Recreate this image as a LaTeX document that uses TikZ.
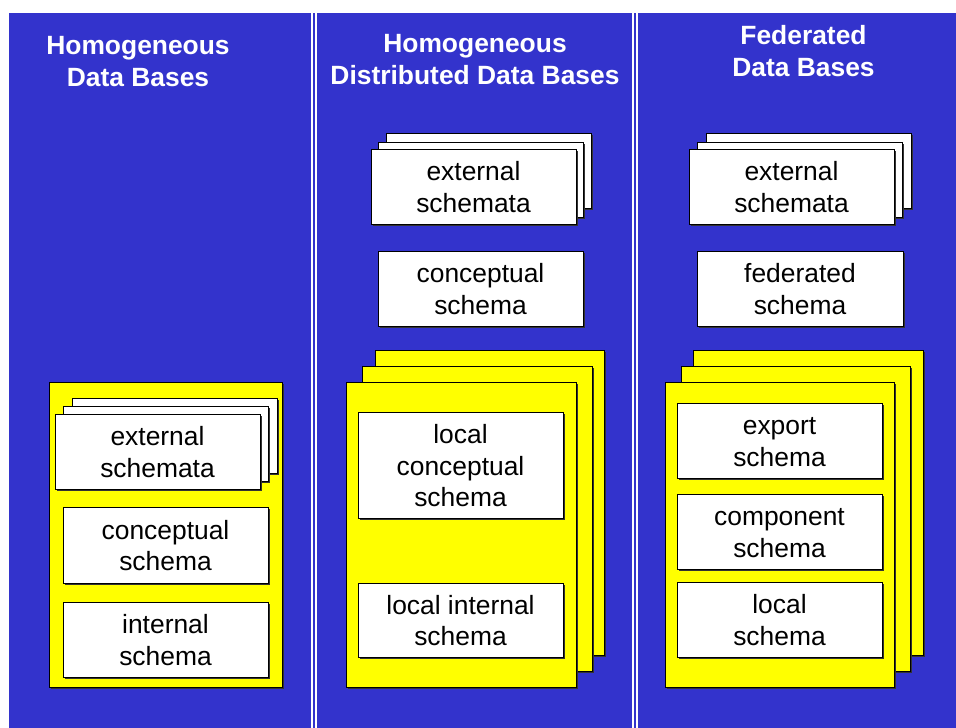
\documentclass[tikz,border=0pt]{standalone}
\usepackage{fontspec}
\setmainfont{Liberation Sans}
\usetikzlibrary{shadows}
\definecolor{panelblue}{RGB}{51,51,204}
\definecolor{siteyellow}{RGB}{255,255,0}
% strut giving every text line the same height and depth
\newcommand\linestrut{\rule[-5.85pt]{0pt}{31.7pt}}

\tikzset{
  boxshadow/.style={drop shadow={shadow xshift=1.6pt, shadow yshift=-1.6pt, fill=black!80, opacity=1}},
  schemabox/.style={draw=black, line width=0.7pt, fill=white, inner sep=0pt, outer sep=0pt,
    align=center, minimum width=205pt, minimum height=75pt, boxshadow,
    font=\fontsize{26.4pt}{31.7pt}\selectfont},
  sitebox/.style={draw=black, line width=0.7pt, fill=siteyellow, inner sep=0pt, outer sep=0pt,
    minimum width=230pt, minimum height=305pt, boxshadow},
  coltitle/.style={text=white, inner sep=0pt, align=center,
    font=\bfseries\fontsize{26.4pt}{31.7pt}\selectfont},
  divider/.style={white, line width=2pt}
}

\begin{document}
\begin{tikzpicture}[x=1pt, y=-1pt]
  \useasboundingbox (0,0) rectangle (956,728);
  \fill[white] (0,0) rectangle (956,728);
  \fill[panelblue] (9,13) rectangle (956,728);

  % column separators (double white rules)
  \draw[divider] (311.7,13) -- (311.7,728);
  \draw[divider] (315.7,13) -- (315.7,728);
  \draw[divider] (632.7,13) -- (632.7,728);
  \draw[divider] (636.6,13) -- (636.6,728);

  % column titles
  \node[coltitle] (title1) at (138,60.5) {Homogeneous\linestrut\\Data Bases\linestrut};
  \node[coltitle] (title2) at (475,58.5) {Homogeneous\linestrut\\Distributed Data Bases\linestrut};
  \node[coltitle] (title3) at (803.5,50.5) {Federated\linestrut\\Data Bases\linestrut};

  % ---- homogeneous data bases ----
  \node[sitebox, minimum width=233pt] (hsite) at (165.5,534.5) {};
  \node[schemabox] (hext3) at (174.5,435.5) {};
  \node[schemabox] (hext2) at (165.5,443.5) {};
  \node[schemabox] (hext1) at (157.5,451.5) {external\linestrut\\schemata\linestrut};
  \node[schemabox, minimum height=76pt] (hconc) at (165.5,545) {conceptual\linestrut\\schema\linestrut};
  \node[schemabox] (hint) at (165.5,639.5) {internal\linestrut\\schema\linestrut};

  % ---- homogeneous distributed data bases ----
  \node[schemabox] (dext3) at (489,170.5) {};
  \node[schemabox] (dext2) at (481,179.5) {};
  \node[schemabox] (dext1) at (473.5,186.5) {external\linestrut\\schemata\linestrut};
  \node[schemabox] (dconc) at (480.5,288.5) {conceptual\linestrut\\schema\linestrut};
  \node[sitebox, minimum width=229pt] (dsite3) at (489.5,502.5) {};
  \node[sitebox] (dsite2) at (477,518.5) {};
  \node[sitebox] (dsite1) at (461,534.5) {};
  \node[schemabox, minimum height=106pt] (dlconc) at (460.5,465) {local\linestrut\\conceptual\linestrut\\schema\linestrut};
  \node[schemabox, minimum height=74pt] (dlint) at (460.5,620) {local internal\linestrut\\schema\linestrut};

  % ---- federated data bases ----
  \node[schemabox] (fext3) at (808.5,170.5) {};
  \node[schemabox] (fext2) at (799.5,179.5) {};
  \node[schemabox] (fext1) at (791.5,186.5) {external\linestrut\\schemata\linestrut};
  \node[schemabox, minimum width=206pt] (ffed) at (800,288.5) {federated\linestrut\\schema\linestrut};
  \node[sitebox] (fsite3) at (808,502.5) {};
  \node[sitebox, minimum width=229pt] (fsite2) at (795.5,518.5) {};
  \node[sitebox, minimum width=229pt] (fsite1) at (779.5,534.5) {};
  \node[schemabox] (fexp) at (779.5,440.5) {export\linestrut\\schema\linestrut};
  \node[schemabox] (fcomp) at (779.5,531.5) {component\linestrut\\schema\linestrut};
  \node[schemabox] (floc) at (779.5,619.5) {local\linestrut\\schema\linestrut};
\end{tikzpicture}
\end{document}
